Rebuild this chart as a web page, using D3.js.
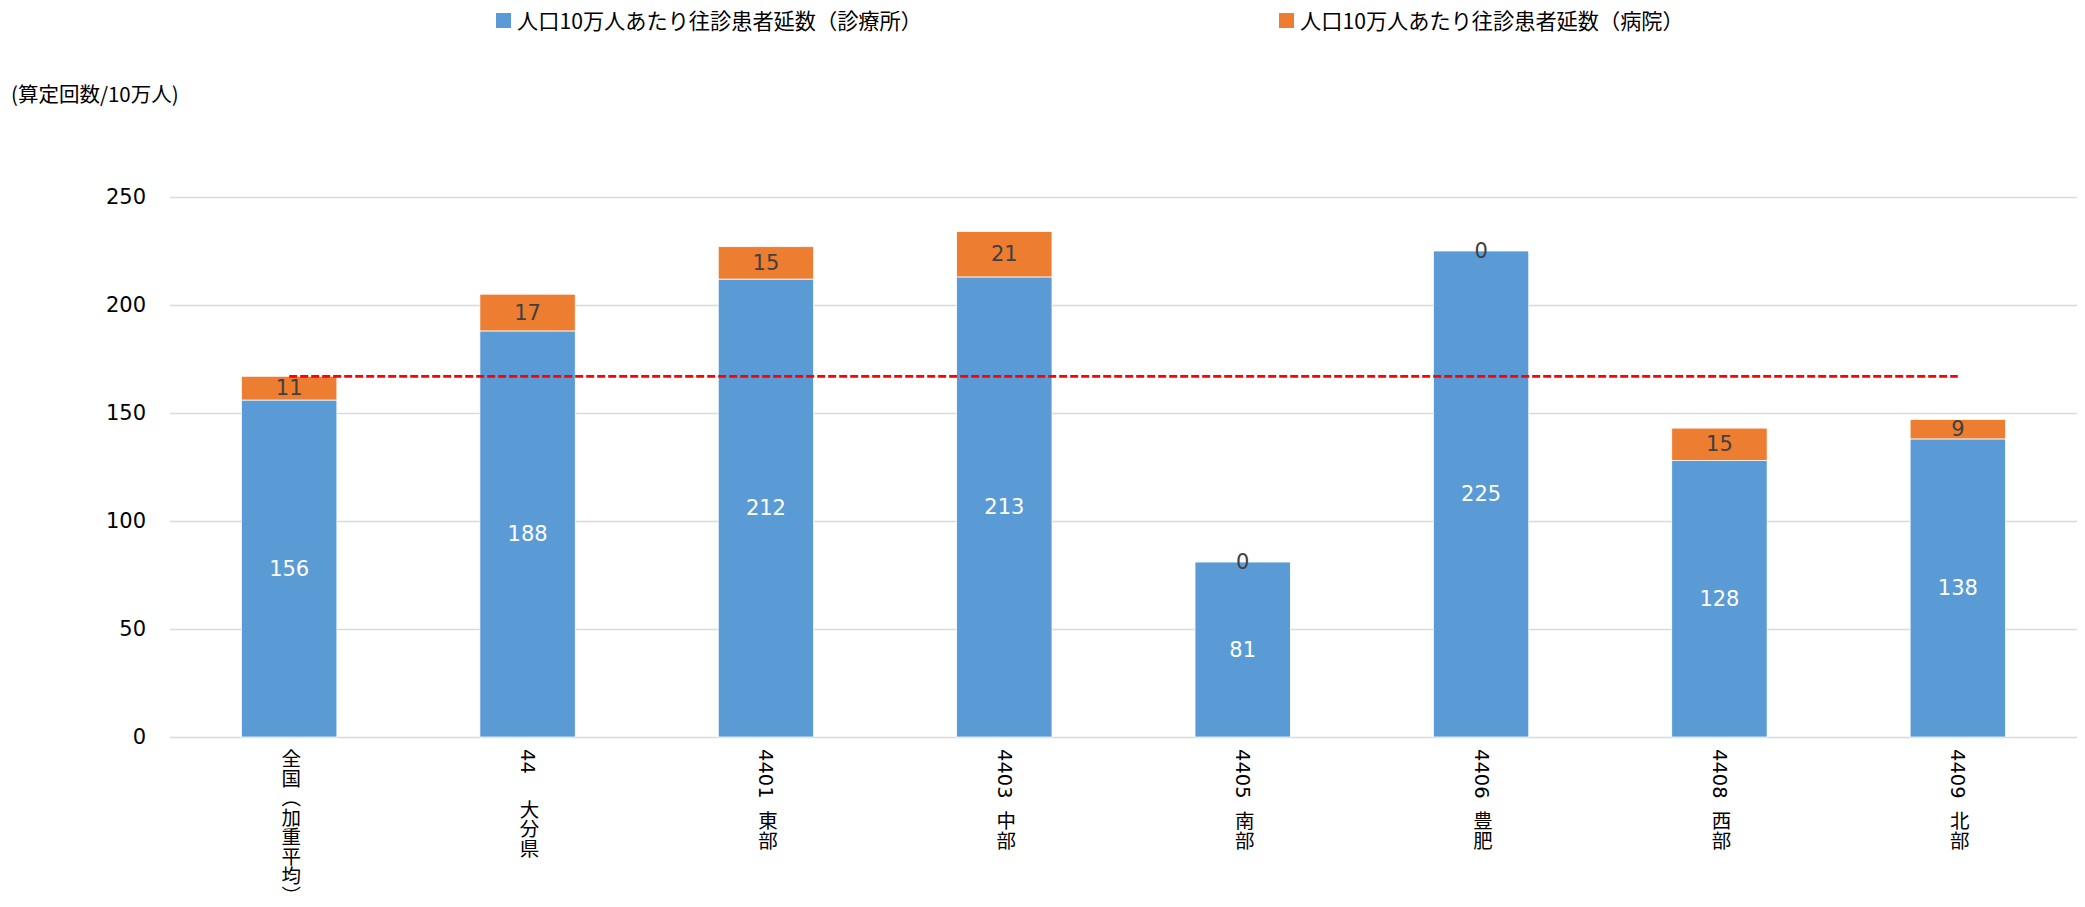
<!DOCTYPE html>
<html>
<head>
<meta charset="utf-8">
<script src="https://cdn.jsdelivr.net/npm/d3@7"></script>
<style>
  body { margin: 0; background: #fff; }
  text { font-family: "DejaVu Sans", "Noto Sans CJK JP", sans-serif; }
  .cjk { font-family: "Noto Sans CJK JP", sans-serif; }
</style>
</head>
<body>
<script>
var categories = ["全国（加重平均）", "44\u3000\u00a0大分県", "4401\u00a0\u00a0東部", "4403\u00a0\u00a0中部",
                  "4405\u00a0\u00a0南部", "4406\u00a0\u00a0豊肥", "4408\u00a0\u00a0西部", "4409\u00a0\u00a0北部"];
var clinic = [156, 188, 212, 213, 81, 225, 128, 138];
var hospital = [11, 17, 15, 21, 0, 0, 15, 9];
var nationalAvg = 167;
var yTicks = [0, 50, 100, 150, 200, 250];
var seriesNames = ["人口10万人あたり往診患者延数（診療所）", "人口10万人あたり往診患者延数（病院）"];

var width = 2085;
var height = 907;

var svg = d3.select("body")
   .append("svg")
   .attr("width", width)
   .attr("height", height);

var x = d3.scaleBand().domain(categories).range([170, 2077]).paddingInner(0.6).paddingOuter(0.3),
    y = d3.scaleLinear().domain([0, 250]).range([737, 197]);

// grid + y labels
svg.append("g")
    .attr("transform", "translate(170,0)")
    .call(d3.axisLeft(y).tickValues(yTicks).tickSize(-1907).tickPadding(24))
    .call(function(g) {
      g.select(".domain").remove();
      g.selectAll(".tick line").attr("stroke", "#d9d9d9").attr("stroke-width", 1.5);
      g.selectAll(".tick text").attr("fill", "#000").style("font-size", "21px")
        .style("font-family", "'DejaVu Sans', sans-serif");
    });

var data = categories.map(function(c, i) { return {cat: c, a: clinic[i], b: hospital[i]}; });

svg.selectAll(".barA")
    .data(data)
    .enter().append("rect")
    .attr("class", "barA")
    .attr("x", function(d) { return x(d.cat); })
    .attr("y", function(d) { return y(d.a); })
    .attr("width", x.bandwidth())
    .attr("height", function(d) { return y(0) - y(d.a); })
    .attr("fill", "#5b9bd5")
    .attr("stroke", "#fff").attr("stroke-width", 0.75);

svg.selectAll(".barB")
    .data(data.filter(function(d) { return d.b > 0; }))
    .enter().append("rect")
    .attr("class", "barB")
    .attr("x", function(d) { return x(d.cat); })
    .attr("y", function(d) { return y(d.a + d.b); })
    .attr("width", x.bandwidth())
    .attr("height", function(d) { return y(d.a) - y(d.a + d.b); })
    .attr("fill", "#ed7d31")
    .attr("stroke", "#fff").attr("stroke-width", 0.75);

// average line
svg.append("line")
    .attr("x1", x(categories[0]) + x.bandwidth() / 2)
    .attr("x2", x(categories[categories.length - 1]) + x.bandwidth() / 2)
    .attr("y1", y(nationalAvg))
    .attr("y2", y(nationalAvg))
    .attr("stroke", "#ff0000")
    .attr("stroke-width", 2.75)
    .attr("stroke-dasharray", "8,3");

// value labels
svg.selectAll(".labA")
    .data(data)
    .enter().append("text")
    .attr("x", function(d) { return x(d.cat) + x.bandwidth() / 2; })
    .attr("y", function(d) { return y(d.a / 2); })
    .attr("text-anchor", "middle")
    .attr("dominant-baseline", "central")
    .attr("fill", "#fff")
    .style("font-size", "21px")
    .text(function(d) { return d.a; });

svg.selectAll(".labB")
    .data(data)
    .enter().append("text")
    .attr("x", function(d) { return x(d.cat) + x.bandwidth() / 2; })
    .attr("y", function(d) { return y(d.a + d.b / 2); })
    .attr("text-anchor", "middle")
    .attr("dominant-baseline", "central")
    .attr("fill", "#404040")
    .style("font-size", "21px")
    .text(function(d) { return d.b; });

// x labels, vertical
svg.selectAll(".xlab")
    .data(categories)
    .enter().append("text")
    .attr("x", function(d) { return x(d) + x.bandwidth() / 2; })
    .attr("y", 749)
    .style("writing-mode", "vertical-rl")
    .style("text-orientation", "mixed")
    .style("font-size", "19.5px")
    .attr("fill", "#000")
    .text(function(d) { return d; });

// y title
svg.append("text")
    .attr("class", "cjk")
    .attr("x", 11)
    .attr("y", 93)
    .attr("dominant-baseline", "central")
    .style("font-size", "20.5px")
    .attr("fill", "#000")
    .text("(算定回数/10万人)");

// legend
var legendX = [496, 1279];
var colors = ["#5b9bd5", "#ed7d31"];
seriesNames.forEach(function(name, i) {
  svg.append("rect")
      .attr("x", legendX[i]).attr("y", 13)
      .attr("width", 15).attr("height", 15)
      .attr("fill", colors[i]);
  svg.append("text")
      .attr("class", "cjk")
      .attr("x", legendX[i] + 21)
      .attr("y", 19)
      .attr("dominant-baseline", "central")
      .style("font-size", "21.2px")
      .attr("fill", "#000")
      .text(name);
});
</script>
</body>
</html>
